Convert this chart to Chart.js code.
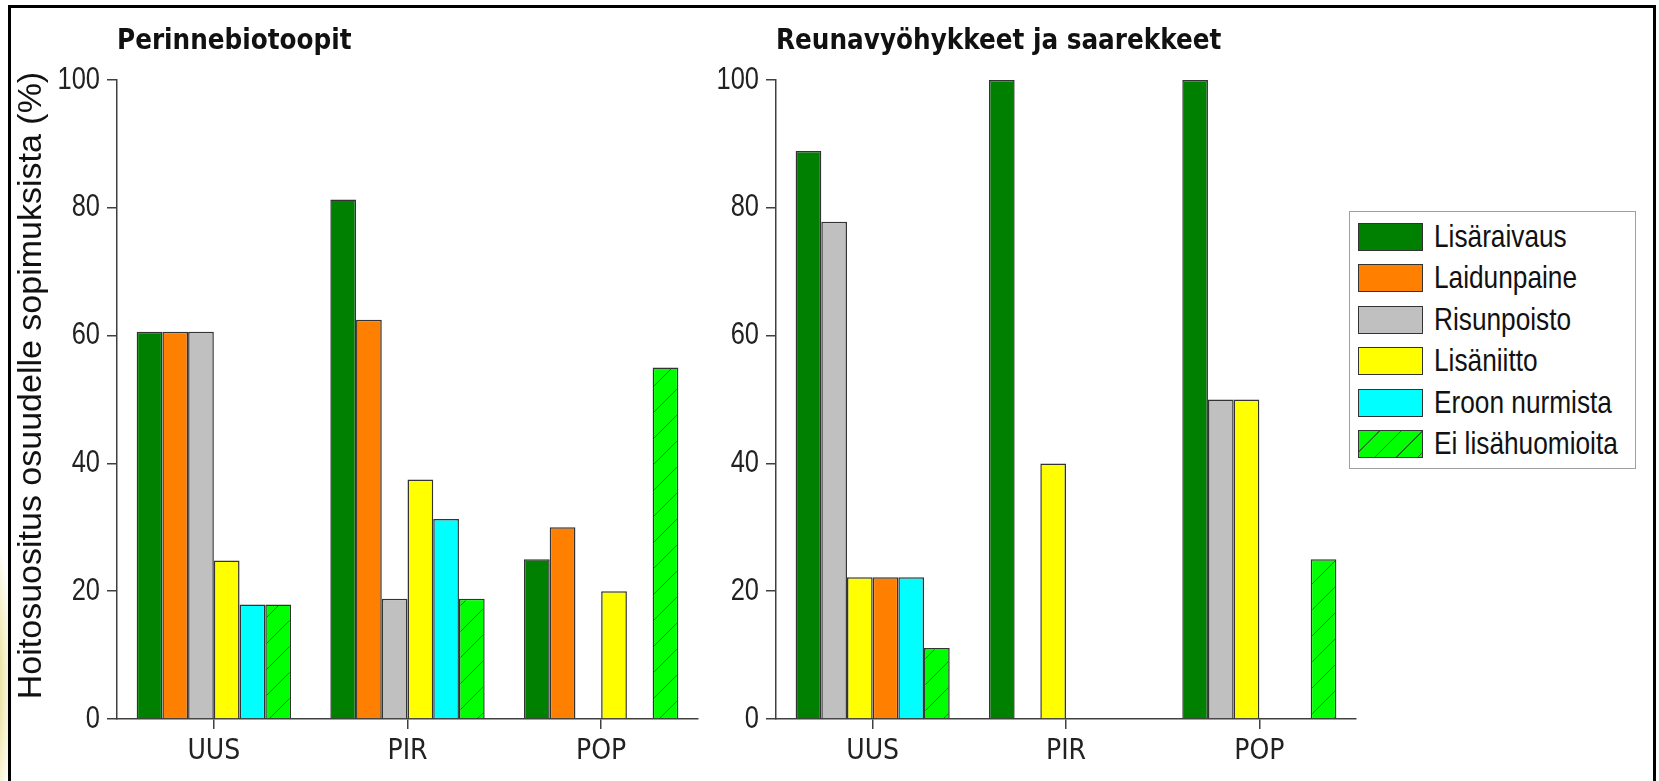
<!DOCTYPE html>
<html>
<head>
<meta charset="utf-8">
<script src="https://cdn.jsdelivr.net/npm/chart.js@4.4.1/dist/chart.umd.min.js"></script>
<style>
  html, body { margin: 0; padding: 0; background: #fff; overflow: hidden; }
  body { width: 1659px; height: 781px; position: relative; }
  canvas { position: absolute; top: 0; }
  #vasen { left: 0; }
  #oikea { left: 700px; }
  #kehys { position: absolute; left: 8px; top: 5px; width: 1642px; height: 900px;
           border: 3px solid #000; pointer-events: none; }
  #hehku { position: absolute; left: -40px; top: 520px; width: 52px; height: 300px;
           background: radial-gradient(ellipse at 40% 55%, rgba(185,170,0,0.9), rgba(230,220,120,0.4) 55%, rgba(255,255,255,0) 75%); }
  #selite { position: absolute; left: 1349px; top: 211px; width: 285px; height: 256px;
            border: 1px solid #a0a0a0; background: #fff; }
  .rivi { position: absolute; left: 8px; height: 28px; }
  .laatikko { position: absolute; left: 0; top: 0; width: 63px; height: 26px; border: 1px solid #333; }
  .teksti { position: absolute; left: 76px; top: -5px; white-space: nowrap;
            font: 32px 'Liberation Sans', Arial, sans-serif; color: #111; line-height: 36px;
            transform: scaleX(0.82); transform-origin: 0 0; }
</style>
</head>
<body>
<div id="hehku"></div>
<canvas id="vasen" width="700" height="781"></canvas>
<canvas id="oikea" width="959" height="781"></canvas>
<div id="selite"></div>
<div id="kehys"></div>
<script>
// ===== Datat =====
const kategoriat = ["UUS", "PIR", "POP"];
const sarjat = ["Lisäraivaus", "Laidunpaine", "Risunpoisto", "Lisäniitto", "Eroon nurmista", "Ei lisähuomioita"];
const varit = ["#008000", "#ff8000", "#c0c0c0", "#ffff00", "#00ffff", "#00ff00"];
const yTicks = [0, 20, 40, 60, 80, 100];

// Perinnebiotoopit (%)
const perLisaraivaus = [60.6, 81.3, 25];
const perLaidunpaine = [60.6, 62.5, 30];
const perRisunpoisto = [60.6, 18.8, 0];
const perLisaniitto = [24.8, 37.5, 20];
const perEroon = [17.9, 31.3, 0];
const perEi = [17.9, 18.8, 55];

// Reunavyöhykkeet ja saarekkeet (%)
const reuLisaraivaus = [88.9, 100, 100];
const reuLaidunpaine = [22.2, 0, 0];
const reuRisunpoisto = [77.8, 0, 50];
const reuLisaniitto = [22.2, 40, 50];
const reuEroon = [22.2, 0, 0];
const reuEi = [11.1, 0, 25];

// oikean kuvan pylväsjärjestys poikkeaa selitteestä
const reunaJarjestys = [0, 2, 3, 1, 4, 5];

// ===== Vinoviivakuvio =====
function teeKuvio() {
  const c = document.createElement("canvas");
  c.width = 26; c.height = 26;
  const g = c.getContext("2d");
  g.fillStyle = "#00ff00";
  g.fillRect(0, 0, 26, 26);
  g.strokeStyle = "#2c6e2c";
  g.lineWidth = 1;
  g.beginPath();
  g.moveTo(-2, 28); g.lineTo(28, -2);
  g.stroke();
  return g.createPattern(c, "repeat");
}

const akseliVari = "#404040";
const numeroFontti = { family: "'Liberation Sans', Arial, sans-serif", size: 31 };
const kategoriaFontti = { family: "'DejaVu Sans Condensed', 'DejaVu Sans', sans-serif", size: 28 };
const otsikkoFontti = { family: "'DejaVu Sans Condensed', 'DejaVu Sans', sans-serif", size: 27.5, weight: "bold" };

// kapeammat akselinumerot ja y-otsikon pieni siirto ylöspäin
const kapeatNumerot = {
  id: "kapeatNumerot",
  afterLayout(chart) {
    const s = chart.scales.y;
    if (s._kapea) return;
    s._kapea = true;
    const ctx = chart.ctx;
    const piirraNumerot = s.drawLabels.bind(s);
    s.drawLabels = function(alue) {
      const ax = s.right - 10 - 7;
      ctx.save();
      ctx.translate(ax, 0); ctx.scale(0.82, 1); ctx.translate(-ax, 0);
      piirraNumerot(alue);
      ctx.restore();
    };
    const piirraOtsikko = s.drawTitle.bind(s);
    s.drawTitle = function() {
      ctx.save();
      ctx.translate(0, -14);
      piirraOtsikko();
      ctx.restore();
    };
  }
};

function datasetit(arvot, jarjestys, kuvio) {
  return jarjestys.map(i => ({
    label: sarjat[i],
    data: arvot[i],
    backgroundColor: i === 5 ? kuvio : varit[i],
    borderColor: "#333",
    borderWidth: 1.5,
    categoryPercentage: 0.797,
    barPercentage: 1
  }));
}

function asetukset(otsikko, yLeveys, oikeaTila, yOtsikko) {
  return {
    responsive: false,
    animation: false,
    devicePixelRatio: 1,
    layout: { padding: { left: 0, right: oikeaTila, top: 0, bottom: 0 } },
    plugins: {
      legend: { display: false },
      tooltip: { enabled: false },
      title: {
        display: true, text: otsikko, align: "start", fullSize: false,
        color: "#111", font: otsikkoFontti, padding: { top: 25, bottom: 22 }
      }
    },
    scales: {
      x: {
        type: "category",
        grid: { offset: false, drawOnChartArea: false, drawTicks: true, tickLength: 10, color: akseliVari, lineWidth: 1.5 },
        border: { color: akseliVari, width: 1.5 },
        ticks: { color: "#222", font: kategoriaFontti, padding: 6 },
        afterFit: s => { s.height = 62; }
      },
      y: {
        min: 0, max: 100,
        afterBuildTicks: s => { s.ticks = yTicks.map(v => ({ value: v })); },
        grid: { drawOnChartArea: false, drawTicks: true, tickLength: 10, color: akseliVari, lineWidth: 1.5 },
        border: { color: akseliVari, width: 1.5 },
        ticks: { color: "#222", font: numeroFontti, padding: 7 },
        title: {
          display: !!yOtsikko, text: yOtsikko || "", color: "#111",
          font: { family: "'Liberation Sans', Arial, sans-serif", size: 34 },
          padding: { top: 11, bottom: 0 }
        },
        afterFit: s => { s.width = yLeveys; }
      }
    }
  };
}

// ===== Selite =====
function teeSelite() {
  const selite = document.getElementById("selite");
  sarjat.forEach((nimi, i) => {
    const rivi = document.createElement("div");
    rivi.className = "rivi";
    rivi.style.top = (11 + i * 41.4) + "px";
    const laatikko = document.createElement("div");
    laatikko.className = "laatikko";
    if (i === 5) {
      laatikko.style.background = "#00ff00 repeating-linear-gradient(135deg, rgba(0,0,0,0) 0 14px, #2c6e2c 14px 15.2px)";
    } else {
      laatikko.style.background = varit[i];
    }
    const teksti = document.createElement("div");
    teksti.className = "teksti";
    teksti.textContent = nimi;
    rivi.appendChild(laatikko);
    rivi.appendChild(teksti);
    selite.appendChild(rivi);
  });
}

// ===== Alustus =====
const kuvio = teeKuvio();
const perArvot = [perLisaraivaus, perLaidunpaine, perRisunpoisto, perLisaniitto, perEroon, perEi];
const reuArvot = [reuLisaraivaus, reuLaidunpaine, reuRisunpoisto, reuLisaniitto, reuEroon, reuEi];

new Chart(document.getElementById("vasen"), {
  type: "bar",
  data: { labels: kategoriat, datasets: datasetit(perArvot, [0, 1, 2, 3, 4, 5], kuvio) },
  options: asetukset("Perinnebiotoopit", 117, 2, "Hoitosuositus osuudelle sopimuksista (%)"),
  plugins: [kapeatNumerot]
});

new Chart(document.getElementById("oikea"), {
  type: "bar",
  data: { labels: kategoriat, datasets: datasetit(reuArvot, reunaJarjestys, kuvio) },
  options: asetukset("Reunavyöhykkeet ja saarekkeet", 76, 303, null),
  plugins: [kapeatNumerot]
});

teeSelite();
</script>
</body>
</html>
